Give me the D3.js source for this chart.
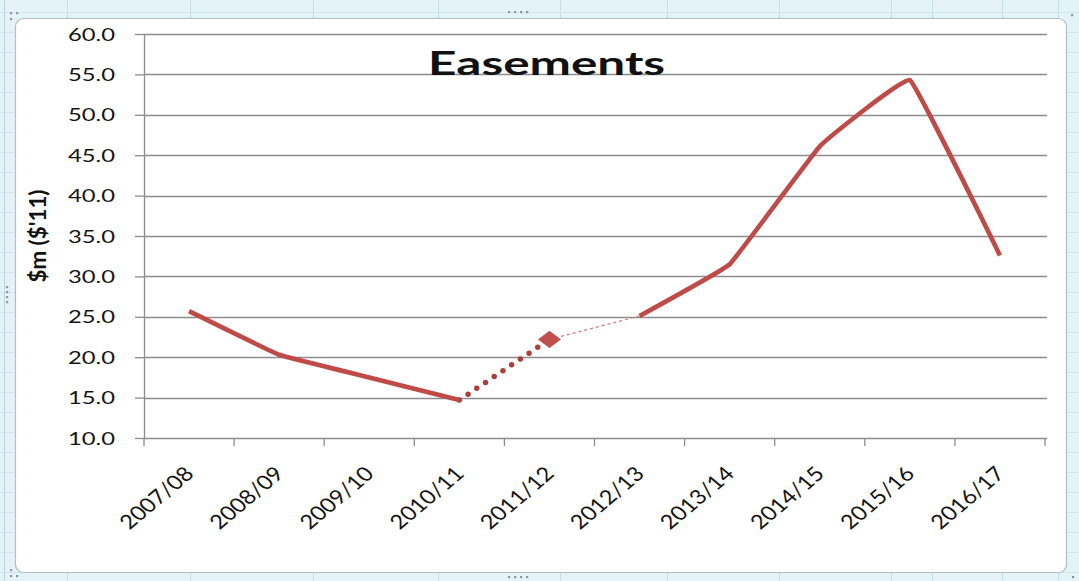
<!DOCTYPE html>
<html>
<head>
<meta charset="utf-8">
<script src="https://cdn.jsdelivr.net/npm/d3@7/dist/d3.min.js"></script>
<style>
  html, body { margin: 0; padding: 0; background: #e4f3f7; }
  svg { display: block; }
</style>
</head>
<body>
<svg id="chart" width="1079" height="581"></svg>
<script>
// Easements spending, $m in 2011 dollars
const categories = ["2007/08", "2008/09", "2009/10", "2010/11", "2011/12",
                    "2012/13", "2013/14", "2014/15", "2015/16", "2016/17"];
const actual = [25.7, 20.3, 17.5, 14.7, null, 25.1, 31.5, 46.1, 54.3, 32.6];
const estimateCategory = "2011/12";
const estimateValue = 22.2;
const yTicks = [10, 15, 20, 25, 30, 35, 40, 45, 50, 55, 60];
const chartTitle = "Easements";
const yTitle = "$m ($'11)";

const W = 1079, H = 581;
const SX = 1.4;               // horizontal stretch applied to the tick lettering
const lineColor = "#be4b48";
const gridColor = "#8c8c8c";
const font = "Lato, 'DejaVu Sans', sans-serif";

const svg = d3.select("#chart");

// worksheet backdrop with faint cell lines
const sheet = svg.append("g");
sheet.append("rect").attr("width", W).attr("height", H).attr("fill", "#e4f3f7");
[67, 190, 313, 438, 560, 667, 779, 891, 932, 1002, 1058].forEach(x => {
  sheet.append("line").attr("x1", x + 0.5).attr("x2", x + 0.5).attr("y1", 0).attr("y2", H)
    .attr("stroke", "#c4dfe6").attr("stroke-width", 1);
});
d3.range(12, H, 20).forEach(y => {
  sheet.append("line").attr("x1", 0).attr("x2", W).attr("y1", y + 0.5).attr("y2", y + 0.5)
    .attr("stroke", "#cfe6ec").attr("stroke-width", 1);
});
sheet.append("line").attr("x1", 4.5).attr("x2", 4.5).attr("y1", 0).attr("y2", H)
  .attr("stroke", "#b9d6de");

// chart frame
svg.append("rect")
  .attr("x", 15.5).attr("y", 18.5).attr("width", 1051).attr("height", 554)
  .attr("rx", 8).attr("ry", 8)
  .attr("fill", "#ffffff").attr("stroke", "#b3bdc1").attr("stroke-width", 1.2);

// resize handles
const handle = svg.append("g").attr("fill", "#8a99a0");
function dots(x0, y0, n, dx, dy) {
  for (let i = 0; i < n; i++) {
    handle.append("rect").attr("x", x0 + i * dx).attr("y", y0 + i * dy)
      .attr("width", 2.2).attr("height", 2.2);
  }
}
dots(508, 11, 4, 6, 0);
dots(508, 576, 4, 6, 0);
dots(6, 286, 4, 0, 5);
dots(10, 12, 2, 6, 0); dots(10, 18, 1, 0, 0);
dots(10, 575, 2, 6, 0); dots(10, 569, 1, 0, 0);
dots(1071, 14, 1, 0, 0);
dots(1072, 576, 1, 0, 0);

// scales
const x = d3.scaleBand().domain(categories).range([144, 1045]).padding(0);
const cx = c => x(c) + x.bandwidth() / 2;
const y = d3.scaleLinear().domain([10, 60]).range([438, 34]);

const plot = svg.append("g");

// horizontal gridlines
plot.append("g").selectAll("line")
  .data(yTicks.filter(t => t > 10))
  .join("line")
  .attr("x1", x.range()[0]).attr("x2", x.range()[1] + 2)
  .attr("y1", d => Math.round(y(d)) + 0.5).attr("y2", d => Math.round(y(d)) + 0.5)
  .attr("stroke", gridColor).attr("stroke-width", 1.3);

// y axis
const yAxis = plot.append("g")
  .attr("transform", `translate(${x.range()[0]},0)`)
  .call(d3.axisLeft(y).tickValues(yTicks).tickFormat(d3.format(".1f"))
        .tickSize(9).tickSizeOuter(0).tickPadding(29));
yAxis.select(".domain").attr("stroke", gridColor).attr("stroke-width", 1.3);
yAxis.selectAll(".tick line").attr("stroke", gridColor).attr("stroke-width", 1.3);
yAxis.selectAll(".tick text")
  .attr("x", null).attr("dy", null)
  .attr("transform", "translate(-29,6) scale(" + SX + ",1)")
  .attr("font-family", font).attr("font-size", 17).attr("fill", "#141414")
  .attr("text-anchor", "end");

// x axis: baseline, boundary ticks and rotated labels
const xAxis = plot.append("g").attr("transform", `translate(0,${y(10)})`);
xAxis.append("line")
  .attr("x1", x.range()[0]).attr("x2", x.range()[1] + 2)
  .attr("y1", 0.5).attr("y2", 0.5)
  .attr("stroke", gridColor).attr("stroke-width", 1.3);
xAxis.selectAll(".bt")
  .data(categories.map(c => x(c)).concat([x.range()[1]]))
  .join("line").attr("class", "bt")
  .attr("x1", d => d).attr("x2", d => d).attr("y1", 0).attr("y2", 8)
  .attr("stroke", gridColor).attr("stroke-width", 1.3);
xAxis.selectAll(".lbl")
  .data(categories)
  .join("text").attr("class", "lbl")
  .attr("transform", d => `translate(${cx(d) + 6},${37}) scale(1.18,1) rotate(-45)`)
  .attr("text-anchor", "end")
  .attr("font-family", font).attr("font-size", 20).attr("fill", "#141414")
  .text(d => d);

// series data
const pts = categories.map((c, i) => ({ c, v: actual[i] }));
const estIdx = categories.indexOf(estimateCategory);
const estPoint = { c: estimateCategory, v: estimateValue };

const line = d3.line()
  .defined(d => d.v != null)
  .x(d => cx(d.c)).y(d => y(d.v))
  .curve(d3.curveCardinal.tension(0.8));
const straight = d3.line().x(d => cx(d.c)).y(d => y(d.v));

// thin dotted link from the estimate to the next actual value
plot.append("path")
  .attr("d", straight([estPoint, pts[estIdx + 1]]))
  .attr("fill", "none").attr("stroke", "#d07a77").attr("stroke-width", 1.2)
  .attr("stroke-dasharray", "3,3");

// heavy dotted link from the last actual value to the estimate
plot.append("path")
  .attr("d", straight([pts[estIdx - 1], estPoint]))
  .attr("fill", "none").attr("stroke", "#a9403c").attr("stroke-width", 5.5)
  .attr("stroke-linecap", "round").attr("stroke-dasharray", "0,10.5");

// actual series
plot.append("path")
  .attr("d", line(pts))
  .attr("fill", "none").attr("stroke", lineColor).attr("stroke-width", 4.6)
  .attr("stroke-linejoin", "round");

// estimate marker
plot.append("path")
  .attr("d", d3.symbol(d3.symbolSquare, 150)())
  .attr("transform", `translate(${cx(estPoint.c)},${y(estPoint.v)}) scale(${SX * 0.95},1) rotate(45)`)
  .attr("fill", "#c0504d");

// titles
svg.append("text")
  .attr("x", 546.5).attr("y", 75)
  .attr("text-anchor", "middle")
  .attr("font-family", font).attr("font-weight", 700).attr("font-size", 33)
  .attr("textLength", 237).attr("lengthAdjust", "spacingAndGlyphs")
  .attr("fill", "#111")
  .text(chartTitle);

svg.append("text")
  .attr("transform", `translate(46,236) scale(1.25,1) rotate(-90)`)
  .attr("text-anchor", "middle")
  .attr("font-family", font).attr("font-weight", 700).attr("font-size", 18)
  .attr("textLength", 93).attr("lengthAdjust", "spacingAndGlyphs")
  .attr("fill", "#111")
  .text(yTitle);
</script>
</body>
</html>
